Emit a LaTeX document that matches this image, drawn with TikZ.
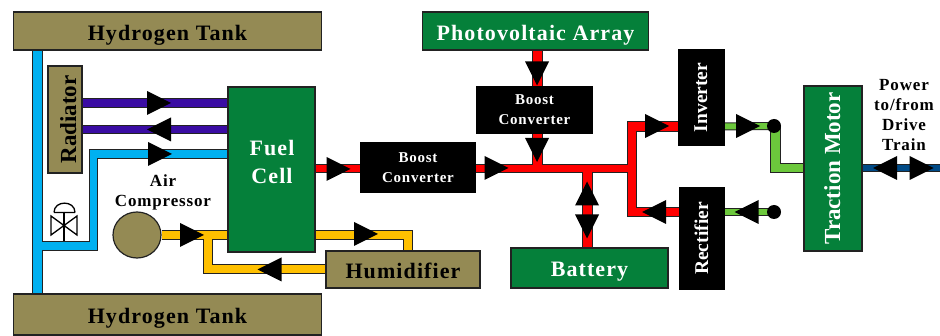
\documentclass[tikz,border=0pt]{standalone}
\usepackage{fontspec}
\setmainfont{Liberation Serif}
\usetikzlibrary{calc,shapes.geometric}
\definecolor{khakibox}{HTML}{948A54}
\definecolor{greenbox}{HTML}{05803A}
\definecolor{pipeblue}{HTML}{00B0F0}
\definecolor{pipepurple}{HTML}{3A0CA3}
\definecolor{pipeyellow}{HTML}{FFC000}
\definecolor{pipegreen}{HTML}{6CC83C}
\definecolor{pipenavy}{HTML}{004A86}
\definecolor{edgegrey}{HTML}{222222}
\pgfdeclarelayer{bgwhite}
\pgfdeclarelayer{pipeback}
\pgfdeclarelayer{pipefront}
\pgfsetlayers{bgwhite,pipeback,pipefront,main}
\newcommand{\pipe}[3]{%
  \begin{pgfonlayer}{pipeback}\draw[edgegrey,line width=#2pt,miter limit=10] #3;\end{pgfonlayer}%
  \begin{pgfonlayer}{pipefront}\draw[#1,line width=#2pt-2pt,miter limit=10] #3;\end{pgfonlayer}}
\newcommand{\tip}[3]{\fill[black,shift={(#1,#2)},rotate=#3] (-12,-12) -- (12,0) -- (-12,12) -- cycle;}
\newcommand{\boxat}[7]{\node[#1,minimum width=#5pt-#3pt,minimum height=#6pt-#4pt] (#2) at ({(#3+#5)/2},{(#4+#6)/2}) {#7};}
\newcommand{\rotbox}[7]{\node[#1,rotate=90,minimum width=#6pt-#4pt,minimum height=#5pt-#3pt] (#2) at ({(#3+#5)/2},{(#4+#6)/2}) {#7};}
\newcommand{\lsp}{\addfontfeature{LetterSpace=5}}
\tikzset{
  basebox/.style={draw=edgegrey,line width=1.2pt,inner sep=0pt,align=center},
  khaki/.style={basebox,fill=khakibox,text=black},
  greenb/.style={basebox,fill=greenbox,text=white},
  blackb/.style={basebox,draw=black,fill=black,text=white},
  plain/.style={inner sep=0pt,align=center,text=black},
  big/.style={font=\fontsize{22}{28}\selectfont\bfseries},
  oneline/.style={text height=#1,text depth=0pt},
  small/.style={font=\fontsize{15}{20}\selectfont\bfseries},
  dotb/.style={circle,fill=black,inner sep=0pt,minimum size=14pt}
}
\begin{document}
\begin{tikzpicture}[x=1pt,y=-1pt]
\begin{pgfonlayer}{bgwhite}
\fill[white] (0,0) rectangle (940,336);
\end{pgfonlayer}
\useasboundingbox (0,0) rectangle (940,336);
% boxes
\boxat{khaki,big,oneline=19pt}{tanktop}{13.5}{12}{321.5}{50}{\lsp Hydrogen Tank}
\boxat{khaki,big,oneline=19pt}{tankbot}{13.5}{294}{321.5}{335}{\lsp Hydrogen Tank}
\rotbox{khaki,font=\fontsize{23}{28}\selectfont\bfseries,oneline=22pt}{rad}{48}{66}{82}{173}{Radiator}
\boxat{greenb}{fc}{228}{87}{315}{252}{}
\node[plain,text=white,big] (fctext) at (272,162) {\lsp Fuel\\\lsp Cell};
\boxat{khaki,big,oneline=19pt}{hum}{326}{251}{480}{288}{\lsp Humidifier}
\boxat{greenb,big,oneline=19pt}{pv}{422.5}{12}{648.5}{50}{\lsp Photovoltaic Array}
\boxat{blackb,small}{bc1}{360.5}{143}{475.5}{192}{\lsp Boost\\\lsp Converter}
\boxat{blackb,small}{bc2}{477}{87}{592}{133}{\lsp Boost\\\lsp Converter}
\boxat{greenb,big,oneline=18pt}{bat}{511}{248}{668}{288}{\lsp Battery}
\rotbox{blackb,font=\fontsize{19.5}{24}\selectfont\bfseries,oneline=11pt}{inv}{679}{50}{724}{145}{Inverter}
\rotbox{blackb,font=\fontsize{19.5}{24}\selectfont\bfseries,oneline=12pt}{rec}{680}{188}{724}{289}{Rectifier}
\rotbox{greenb,font=\fontsize{23}{28}\selectfont\bfseries,oneline=14pt}{tm}{804}{86}{862}{251}{Traction Motor}
\node[dotb] (dot1) at (774,126) {};
\node[dotb] (dot2) at (774,212) {};
\node[plain,font=\fontsize{17}{20}\selectfont\bfseries] (air) at (163,192) {\lsp Air\\\lsp Compressor};
\node[plain,font=\fontsize{17}{20.3}\selectfont\bfseries] (power) at (904,115) {\lsp Power\\\lsp to/from\\\lsp Drive\\\lsp Train};
\node[draw=edgegrey,line width=1.2pt,fill=khakibox,ellipse,minimum width=48pt,minimum height=46pt,inner sep=0pt] (comp) at (137,235) {};
\coordinate (end) at (940,168);
% hydrogen
\pipe{pipeblue}{11}{(37.5,50) -- (37.5,294)}
\pipe{pipeblue}{9.5}{(37.5,246) -- (93.5,246) -- (93.5,154) -- (fc.west |- 0,154)}
% coolant
\pipe{pipepurple}{9.5}{(rad.south |- 0,103) -- (fc.west |- 0,103)}
\pipe{pipepurple}{9.5}{(rad.south |- 0,129.5) -- (fc.west |- 0,129.5)}
% air
\pipe{pipeyellow}{10}{(comp.east) -- (fc.west |- comp.east)}
\pipe{pipeyellow}{10}{(207.5,235) -- (207.5,269.5) -- (hum.west |- 0,269.5)}
\pipe{pipeyellow}{10}{(fc.east |- 0,235) -- (408,235) -- (408,251)}
% electric
\pipe{red}{9}{(fc.east |- 0,169) -- (bc1.west |- 0,169)}
\pipe{red}{9.5}{(bc1.east |- 0,168.5) -- (632,168.5)}
\pipe{red}{11}{(537,50) -- (537,87)}
\pipe{red}{11}{(537,133) -- (537,168.5)}
\pipe{red}{11}{(587,168.5) -- (587,248)}
\pipe{red}{10.5}{(inv.north |- 0,126.5) -- (632,126.5) -- (632,212) -- (rec.north |- 0,212)}
% motor side
\pipe{pipegreen}{8}{(inv.south |- 0,126.5) -- (dot1.center)}
\pipe{pipegreen}{8}{(rec.south |- 0,212) -- (dot2.center)}
\pipe{pipegreen}{10.5}{(775.5,126.5) -- (775.5,168) -- (tm.north |- 0,168)}
\pipe{pipenavy}{8}{(tm.south |- 0,168) -- (end)}
% arrowheads
\tip{159}{103}{0}
\tip{159}{129.5}{180}
\tip{160}{154}{0}
\tip{192}{235}{0}
\tip{269.5}{269.5}{180}
\tip{366}{234}{0}
\tip{338.5}{169}{0}
\tip{496.5}{168}{0}
\tip{537}{73.5}{-90}
\tip{537}{150}{-90}
\tip{587}{193.5}{90}
\tip{587}{226.5}{-90}
\tip{657}{126}{0}
\tip{654}{212}{180}
\tip{748}{126}{0}
\tip{746.5}{212}{180}
\tip{885}{168}{180}
\tip{921.5}{168}{0}
% valve
\draw[black,line width=1.3pt,fill=white] (51,216) -- (77,235) -- (77,216) -- (51,235) -- cycle;
\draw[black,line width=1.3pt] (64,212) -- (64,241);
\draw[black,line width=1.3pt] (54,212.5) -- (75,212.5) (54,212.5) .. controls (54,200) and (75,200) .. (75,212.5);
\end{tikzpicture}
\end{document}
